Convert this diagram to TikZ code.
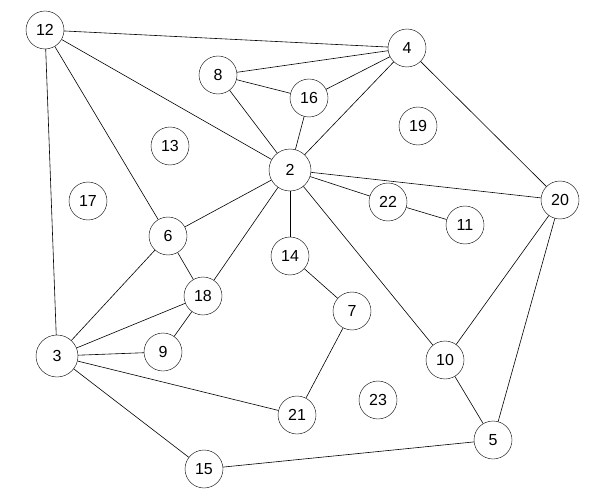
\documentclass[tikz,border=0pt]{standalone}
\usepackage{fontspec}
\setmainfont{Liberation Sans}
\begin{document}
\begin{tikzpicture}[x=1pt,y=-1pt,
  v/.style={circle,draw,fill=white,minimum size=38pt,inner sep=0pt,font=\fontsize{16}{18}\selectfont},
  e/.style={draw,line width=0.6pt}]
\useasboundingbox (0,0) rectangle (600,500);
\node[v] (n12) at (45,30) {12};
\node[v] (n4) at (407,48) {4};
\node[v] (n8) at (218,75) {8};
\node[v] (n16) at (309,98) {16};
\node[v] (n19) at (418,126) {19};
\node[v] (n13) at (170,146) {13};
\node[v,minimum size=42pt] (n2) at (290,170) {2};
\node[v] (n20) at (560,200) {20};
\node[v] (n17) at (88,201) {17};
\node[v] (n22) at (388,202) {22};
\node[v] (n11) at (465,225) {11};
\node[v] (n6) at (168,236) {6};
\node[v] (n14) at (290,256) {14};
\node[v] (n18) at (203,296) {18};
\node[v] (n7) at (352,311) {7};
\node[v,minimum size=42pt] (n3) at (57,356) {3};
\node[v] (n9) at (163,352) {9};
\node[v] (n10) at (445,360) {10};
\node[v] (n23) at (378,400) {23};
\node[v] (n21) at (297,415) {21};
\node[v] (n5) at (493,440) {5};
\node[v] (n15) at (204,469) {15};
\begin{scope}[on background layer/.style={}]
\end{scope}
\foreach \a/\b in {12/4,12/2,12/6,12/3,8/4,8/16,8/2,16/4,16/2,2/4,4/20,2/20,2/22,22/11,2/6,2/14,2/18,2/10,6/3,6/18,18/3,18/9,9/3,14/7,7/21,3/21,3/15,15/5,10/5,10/20,20/5}
  \draw[e] (n\a) -- (n\b);
\end{tikzpicture}
\end{document}
